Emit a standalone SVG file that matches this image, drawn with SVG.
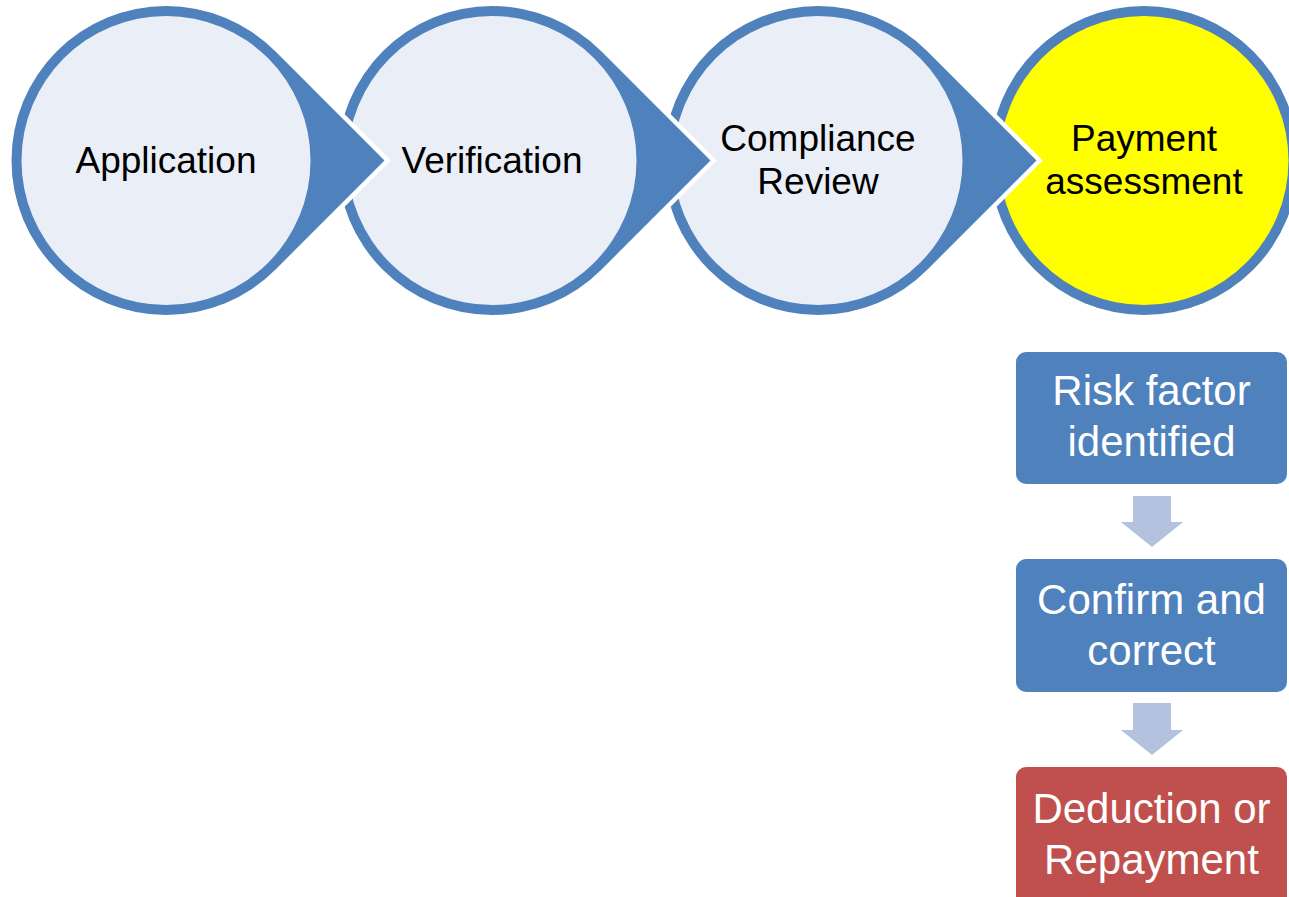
<svg xmlns="http://www.w3.org/2000/svg" width="1289" height="897" viewBox="0 0 1289 897">
<style>
.drop{fill:#4F81BD;stroke:#FFFFFF;stroke-width:9;paint-order:stroke;stroke-linejoin:miter}
.inner{fill:#EAEFF7}
.ctext{font-family:"Liberation Sans",Arial,sans-serif;font-size:37px;fill:#000;text-anchor:middle}
.box{fill:#4F81BD}
.btext{font-family:"Liberation Sans",Arial,sans-serif;font-size:42px;fill:#FFF;text-anchor:middle}
.down{fill:#B3C3DF}
</style>
<rect width="1289" height="897" fill="#FFFFFF"/>
<g id="payment">
<circle cx="1144" cy="160.5" r="154.5" fill="#4F81BD"/>
<circle cx="1144" cy="160.5" r="144.5" fill="#FFFF00"/>
<text class="ctext" x="1144" y="151">Payment</text>
<text class="ctext" x="1144" y="194">assessment</text>
</g>
<g id="compliance">
<path class="drop" d="M1036.5,160.5 L927.3,51.3 A154.5,154.5 0 1 0 927.3,269.7 Z"/>
<circle class="inner" cx="818" cy="160.5" r="144.5"/>
<text class="ctext" x="818" y="151">Compliance</text>
<text class="ctext" x="818" y="194">Review</text>
</g>
<g id="verification">
<path class="drop" d="M710.5,160.5 L601.3,51.3 A154.5,154.5 0 1 0 601.3,269.7 Z"/>
<circle class="inner" cx="492" cy="160.5" r="144.5"/>
<text class="ctext" x="492" y="173">Verification</text>
</g>
<g id="application">
<path class="drop" d="M384.5,160.5 L275.3,51.3 A154.5,154.5 0 1 0 275.3,269.7 Z"/>
<circle class="inner" cx="166" cy="160.5" r="144.5"/>
<text class="ctext" x="166" y="173">Application</text>
</g>
<g id="risk">
<rect class="box" x="1016" y="352" width="271" height="132" rx="10"/>
<text class="btext" x="1151.5" y="405">Risk factor</text>
<text class="btext" x="1151.5" y="456">identified</text>
</g>
<g id="confirm">
<rect class="box" x="1016" y="559" width="271" height="133" rx="10"/>
<text class="btext" x="1151.5" y="614">Confirm and</text>
<text class="btext" x="1151.5" y="665">correct</text>
</g>
<g id="deduction">
<rect x="1016" y="767" width="271" height="140" rx="10" fill="#C0504D"/>
<text class="btext" x="1151.5" y="823">Deduction or</text>
<text class="btext" x="1151.5" y="874">Repayment</text>
</g>
<g id="connectors">
<path class="down" d="M1133,496 H1171 V522 H1183 L1152,547 L1121,522 H1133 Z"/>
<path class="down" d="M1133,703 H1171 V730 H1183 L1152,755 L1121,730 H1133 Z"/>
</g>
</svg>
